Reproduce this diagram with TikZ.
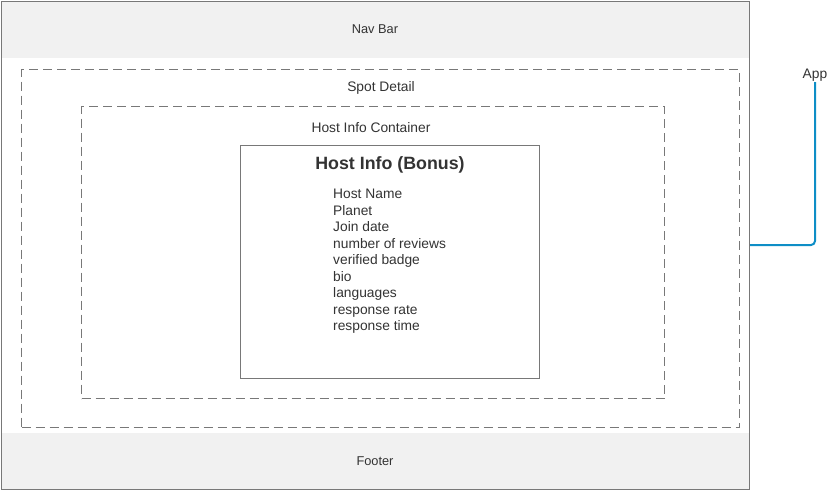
\documentclass[tikz,border=0pt]{standalone}
\usepackage{fontspec}
\setmainfont{Liberation Sans}
\definecolor{linkblue}{RGB}{14,142,198}
\begin{document}
\begin{tikzpicture}[x=1pt,y=-1pt,
  frame/.style={draw=black!53, line width=1pt, inner sep=0pt, anchor=north west},
  bar/.style={fill=black!5.5, draw=none, inner sep=0pt, anchor=north west},
  dashbox/.style={draw=black!53, line width=1pt, dash pattern=on 9pt off 5pt, inner sep=0pt, anchor=north west},
  lbl/.style={font=\fontsize{13.8}{16}\selectfont, text=black!80, inner sep=0pt},
  barlbl/.style={font=\fontsize{12.8}{15}\selectfont, text=black!80, inner sep=0pt},
  wire/.style={draw=linkblue, line width=2pt, rounded corners=4pt}
]
\useasboundingbox (0,0) rectangle (828,490);
% application frame with header and footer strips
\node[bar, minimum width=748pt, minimum height=57pt] (nav) at (1,1) {};
\node[bar, minimum width=748pt, minimum height=56pt] (foot) at (1,433) {};
\node[frame, minimum width=748pt, minimum height=488pt] (app) at (1,1) {};
\node[barlbl] (navlbl) at (375,29) {Nav Bar};
\node[barlbl] (footlbl) at (375,461) {Footer};
% nested containers
\node[dashbox, minimum width=718pt, minimum height=358pt] (spot) at (21,69) {};
\node[lbl] (spotlbl) at (381,88) {Spot Detail};
\node[dashbox, minimum width=583pt, minimum height=292pt] (cont) at (81,106) {};
\node[lbl] (contlbl) at (371,128) {Host Info Container};
\node[frame, minimum width=299pt, minimum height=233pt] (host) at (240,145) {};
\node[font=\bfseries\fontsize{17.8}{20}\selectfont, text=black!80, inner sep=0pt] (hosttitle) at (390,165) {Host Info (Bonus)};
\node[lbl, anchor=north west, align=left, font=\fontsize{13.8}{16.5}\selectfont] (fields) at (333,189) {Host Name\\Planet\\Join date\\number of reviews\\verified badge\\bio\\languages\\response rate\\response time};
% app label and its connector
\node[lbl, anchor=south] (applbl) at (815,82) {App};
\draw[wire] (app.east |- 0,245) -| (applbl.south);
\end{tikzpicture}
\end{document}
